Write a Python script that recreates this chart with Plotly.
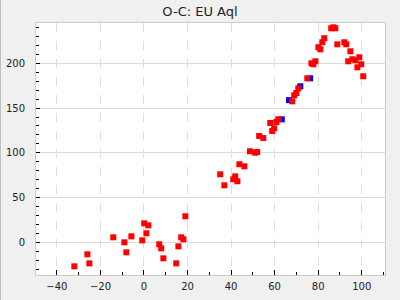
import plotly.graph_objects as go

# Red series (O-C values)
red_x = [-32.0, -26.0, -25.1, -14.1, -9.0, -8.1, -5.8, -0.8, 0.1, 2.0, 1.1, 7.0, 7.9, 8.9,
         14.8, 15.8, 17.1, 18.1, 19.0,
         35.0, 36.9, 41.9, 41.0, 42.9, 43.8, 46.1,
         48.7, 51.1, 52.0, 52.9, 54.8, 58.0, 58.9, 59.8, 60.8, 61.7,
         68.1, 69.0, 70.0, 70.9, 75.0, 76.9, 77.8, 78.7, 80.1, 81.0, 81.9, 82.8,
         86.0, 87.0, 87.9, 88.8, 92.0, 92.9, 94.8, 93.8, 95.7, 97.1, 98.9, 98.0, 99.8, 100.7]
red_y = [-26.8, -13.4, -23.5, 5.6, 0.0, -11.2, 6.7, 2.2, 21.2, 19.0, 10.1, -2.2, -6.7, -17.9,
         -23.5, -4.5, 5.6, 3.4, 29.1,
         76.0, 63.7, 73.7, 70.4, 68.2, 87.2, 84.9,
         101.7, 100.1, 100.9, 118.8, 116.5, 133.3, 124.4, 127.4, 134.4, 137.4,
         157.5, 164.2, 166.8, 172.0, 183.2, 200.0, 198.9, 202.2, 217.9, 215.6, 223.5, 228.0,
         239.1, 240.2, 239.1, 221.2, 223.5, 221.2, 213.4, 202.2, 204.5, 203.4, 206.7, 195.5, 198.9, 185.5]

# Blue series
blue_x = [63.3, 66.6, 71.8, 76.3]
blue_y = [137.4, 158.8, 174.3, 183.2]

x_range = [-49.6, 110.7]
y_range = [-36.5, 245.0]
title_text = "O-C: EU Aql"

fig = go.Figure()
fig.add_trace(go.Scatter(x=blue_x, y=blue_y, mode="markers",
                         marker=dict(symbol="square", size=6, color="#0000ff", line=dict(width=0)),
                         showlegend=False))
fig.add_trace(go.Scatter(x=red_x, y=red_y, mode="markers",
                         marker=dict(symbol="square", size=6, color="#ff0000", line=dict(width=0)),
                         showlegend=False))

fig.update_layout(
    width=400, height=300,
    margin=dict(l=36, r=15, t=23, b=25, autoexpand=False),
    paper_bgcolor="#f0f0f0",
    plot_bgcolor="#ffffff",
    title=dict(text=title_text, x=0.5, xref="container", xanchor="center",
               y=1 - 11/300, yref="container", yanchor="middle",
               font=dict(family="DejaVu Sans", size=13, color="#222222"),
               automargin=False),
    font=dict(family="DejaVu Sans", size=10, color="#222222"),
    xaxis=dict(range=x_range, dtick=20, tick0=0, showgrid=True, gridcolor="#dddddd",
               griddash="dash", gridwidth=1, zeroline=False, automargin=False,
               showline=True, linecolor="#cccccc", mirror=True,
               ticks="inside", ticklen=5, tickcolor="#000000",
               minor=dict(dtick=10, ticks="inside", ticklen=3, tickcolor="#000000", showgrid=False),
               ticklabelstandoff=2),
    yaxis=dict(range=y_range, dtick=50, tick0=0, showgrid=True, gridcolor="#dddddd",
               gridwidth=1, zeroline=False, automargin=False,
               showline=True, linecolor="#cccccc", mirror=True,
               ticks="inside", ticklen=4, tickcolor="#000000",
               minor=dict(dtick=10, ticks="inside", ticklen=3, tickcolor="#000000", showgrid=False),
               ticklabelstandoff=8),
)

fig.add_shape(type="line", xref="paper", yref="paper",
              x0=-35.5/349, x1=-35.5/349, y0=-25/252, y1=1 + 23/252,
              line=dict(color="#c0c0c0", width=1))

fig.write_html("out.html")
